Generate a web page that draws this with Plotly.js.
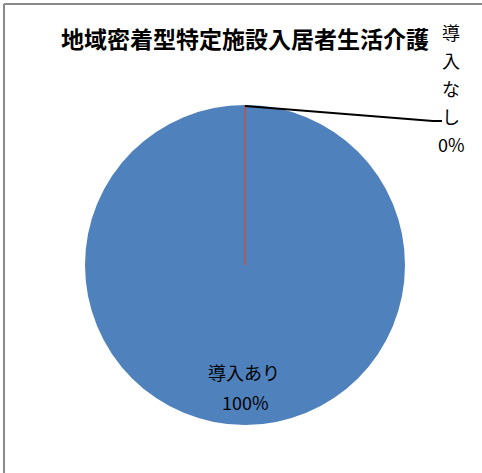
<!DOCTYPE html>
<html>
<head>
<meta charset="utf-8">
<script src="https://cdn.plot.ly/plotly-3.0.1.min.js"></script>
<style>html,body{margin:0;padding:0;background:#fff;}#chart{width:482px;height:473px;}</style>
</head>
<body>
<div id="chart"></div>
<script>
const chartTitle = "地域密着型特定施設入居者生活介護";
const labels = ["導入あり", "導入なし"];
const values = [100, 0];
const colors = ["#4F81BD", "#C0504D"];

const W = 482, H = 473;
const px = x => x / W;
const py = y => 1 - y / H;
const total = values.reduce((a, b) => a + b, 0);
const pct = v => Math.round(v / total * 100) + "%";
const jpFont = "'Noto Sans CJK JP', 'Noto Sans', sans-serif";

const trace = {
  type: "pie",
  labels: labels,
  values: values,
  sort: false,
  direction: "clockwise",
  rotation: 0,
  textinfo: "none",
  hoverinfo: "skip",
  showlegend: false,
  marker: { colors: colors, line: { color: ["#4F81BD", "#C0504D"], width: [0, 1] } },
  domain: { x: [px(85), px(405)], y: [py(425), py(105)] }
};

const annotations = [];
// label for the main slice, inside the pie near the bottom
annotations.push({ text: labels[0], x: px(244), y: py(372), xref: "paper", yref: "paper",
  showarrow: false, xanchor: "center", yanchor: "middle", font: { family: jpFont, size: 18, color: "#000" } });
annotations.push({ text: pct(values[0]), x: px(245), y: py(402), xref: "paper", yref: "paper",
  showarrow: false, xanchor: "center", yanchor: "middle", font: { family: jpFont, size: 18, color: "#000" } });
// label for the zero slice, stacked vertically at the top right
const lines = labels[1].split("").concat([pct(values[1])]);
lines.forEach((t, i) => {
  annotations.push({ text: t, x: px(451), y: py(32 + i * 28), xref: "paper", yref: "paper",
    showarrow: false, xanchor: "center", yanchor: "middle",
    font: { family: jpFont, size: 18, color: "#000" } });
});

const layout = {
  width: W, height: H,
  margin: { l: 0, r: 0, t: 0, b: 0 },
  paper_bgcolor: "#fff",
  title: { text: "<b>" + chartTitle + "</b>", x: px(245), xanchor: "center", y: py(40), yanchor: "middle",
    font: { family: jpFont, size: 23, color: "#000" } },
  annotations: annotations,
  shapes: [
    { type: "line", xref: "paper", yref: "paper", x0: px(4), x1: px(4), y0: 0, y1: py(4), line: { color: "#8a8a8a", width: 2 } },
    { type: "line", xref: "paper", yref: "paper", x0: px(4), x1: 1, y0: py(4), y1: py(4), line: { color: "#8a8a8a", width: 2 } },
    { type: "path", xref: "paper", yref: "paper",
      path: `M ${px(245)},${py(106)} L ${px(433)},${py(121)} L ${px(442)},${py(121)}`,
      line: { color: "#000", width: 2 } }
  ]
};

Plotly.newPlot("chart", [trace], layout, { displayModeBar: false, staticPlot: true });
</script>
</body>
</html>
